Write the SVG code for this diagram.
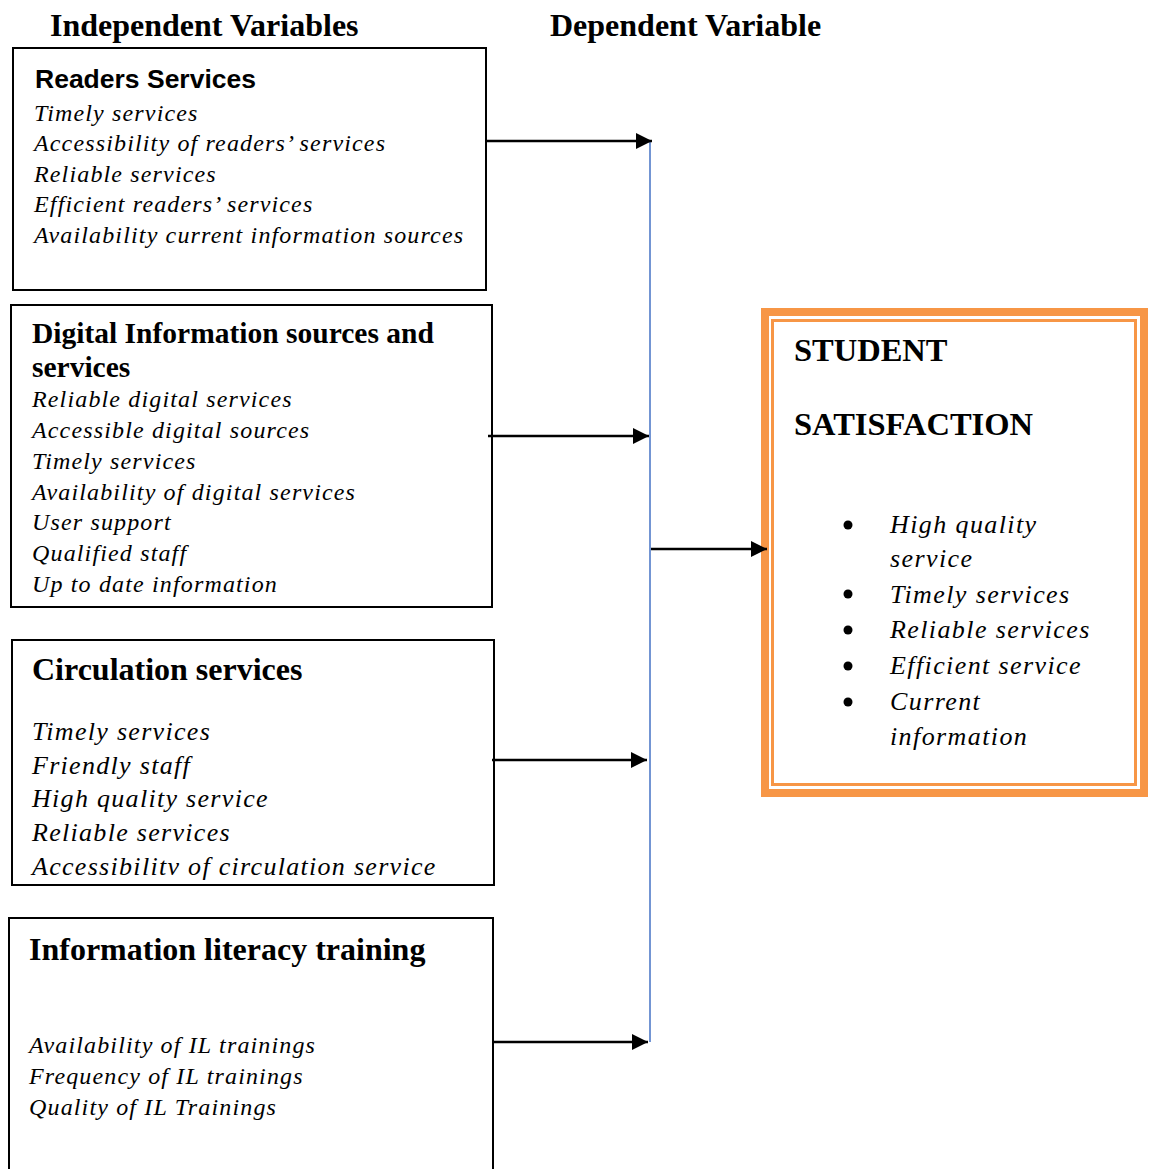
<svg xmlns="http://www.w3.org/2000/svg" width="1149" height="1169" viewBox="0 0 1149 1169">
<style>
.box{fill:#fff;stroke:#000;stroke-width:2}
.hdr{font-family:"Liberation Serif",serif;font-weight:bold;font-size:32px;fill:#000}
.ttl{font-family:"Liberation Serif",serif;font-weight:bold;font-size:32px;fill:#000}
.ttl2{font-family:"Liberation Serif",serif;font-weight:bold;font-size:29.5px;fill:#000}
.sans{font-family:"Liberation Sans",sans-serif;font-weight:bold;font-size:26.5px;fill:#000}
.it{font-family:"Liberation Serif",serif;font-style:italic;font-size:24px;letter-spacing:1.15px;fill:#000}
.it2{font-family:"Liberation Serif",serif;font-style:italic;font-size:26px;letter-spacing:1.3px;fill:#000}
.it3{font-family:"Liberation Serif",serif;font-style:italic;font-size:26px;letter-spacing:1.4px;fill:#000}
.big{font-family:"Liberation Serif",serif;font-weight:bold;font-size:32.5px;fill:#000}
.conn{stroke:#000;stroke-width:2.5;fill:none}
</style>
<defs>
<marker id="ah" viewBox="0 0 10 10" refX="10" refY="5" markerWidth="6.4" markerHeight="6.4" markerUnits="strokeWidth" orient="auto">
<path d="M0,0 L10,5 L0,10 Z" fill="#000"/>
</marker>
</defs>

<g id="headers">
<text class="hdr" x="50" y="36">Independent Variables</text>
<text class="hdr" x="550" y="36">Dependent Variable</text>
</g>

<g id="readers-services">
<rect class="box" x="13" y="48" width="473" height="242"/>
<text class="sans" x="35" y="88">Readers Services</text>
<text class="it" x="34" y="121">Timely services</text>
<text class="it" x="34" y="151">Accessibility of readers’ services</text>
<text class="it" x="34" y="182">Reliable services</text>
<text class="it" x="34" y="212">Efficient readers’ services</text>
<text class="it" x="34" y="243">Availability current information sources</text>
</g>

<g id="digital-services">
<rect class="box" x="11" y="305" width="481" height="302"/>
<text class="ttl2" x="32" y="343">Digital Information sources and</text>
<text class="ttl2" x="32" y="377">services</text>
<text class="it" x="32" y="407">Reliable digital services</text>
<text class="it" x="32" y="438">Accessible digital sources</text>
<text class="it" x="32" y="469">Timely services</text>
<text class="it" x="32" y="500">Availability of digital services</text>
<text class="it" x="32" y="530">User support</text>
<text class="it" x="32" y="561">Qualified staff</text>
<text class="it" x="32" y="592">Up to date information</text>
</g>

<g id="circulation-services">
<rect class="box" x="12" y="640" width="482" height="245"/>
<text class="ttl" x="32" y="680">Circulation services</text>
<text class="it2" x="32" y="740">Timely services</text>
<text class="it2" x="32" y="774">Friendly staff</text>
<text class="it2" x="32" y="807">High quality service</text>
<text class="it2" x="32" y="841">Reliable services</text>
<text class="it2" x="32" y="875">Accessibilitv of circulation service</text>
</g>

<g id="information-literacy">
<rect class="box" x="9" y="918" width="484" height="270"/>
<text class="ttl" x="29" y="960">Information literacy training</text>
<text class="it" x="29" y="1053">Availability of IL trainings</text>
<text class="it" x="29" y="1084">Frequency of IL trainings</text>
<text class="it" x="29" y="1115">Quality of IL Trainings</text>
</g>

<g id="student-satisfaction">
<rect x="765" y="312" width="379" height="481" fill="#fff" stroke="#F79646" stroke-width="8"/>
<rect x="772.5" y="320.5" width="363" height="464" fill="none" stroke="#F79646" stroke-width="3"/>
<text class="big" x="794" y="361">STUDENT</text>
<text class="big" x="794" y="435">SATISFACTION</text>
<g fill="#000">
<circle cx="848" cy="525" r="4.5"/>
<circle cx="848" cy="594" r="4.5"/>
<circle cx="848" cy="630" r="4.5"/>
<circle cx="848" cy="666" r="4.5"/>
<circle cx="848" cy="702" r="4.5"/>
</g>
<text class="it3" x="890" y="533">High quality</text>
<text class="it3" x="890" y="567">service</text>
<text class="it3" x="890" y="603">Timely services</text>
<text class="it3" x="890" y="638">Reliable services</text>
<text class="it3" x="890" y="674">Efficient service</text>
<text class="it3" x="890" y="710">Current</text>
<text class="it3" x="890" y="745">information</text>
</g>

<g id="connectors">
<line x1="650" y1="141" x2="650" y2="1042" stroke="#4472C4" stroke-width="1.5"/>
<line class="conn" x1="485" y1="141" x2="652" y2="141" marker-end="url(#ah)"/>
<line class="conn" x1="488" y1="436" x2="649" y2="436" marker-end="url(#ah)"/>
<line class="conn" x1="492" y1="760" x2="647" y2="760" marker-end="url(#ah)"/>
<line class="conn" x1="492" y1="1042" x2="648" y2="1042" marker-end="url(#ah)"/>
<line class="conn" x1="651" y1="549" x2="767" y2="549" marker-end="url(#ah)"/>
</g>
</svg>
